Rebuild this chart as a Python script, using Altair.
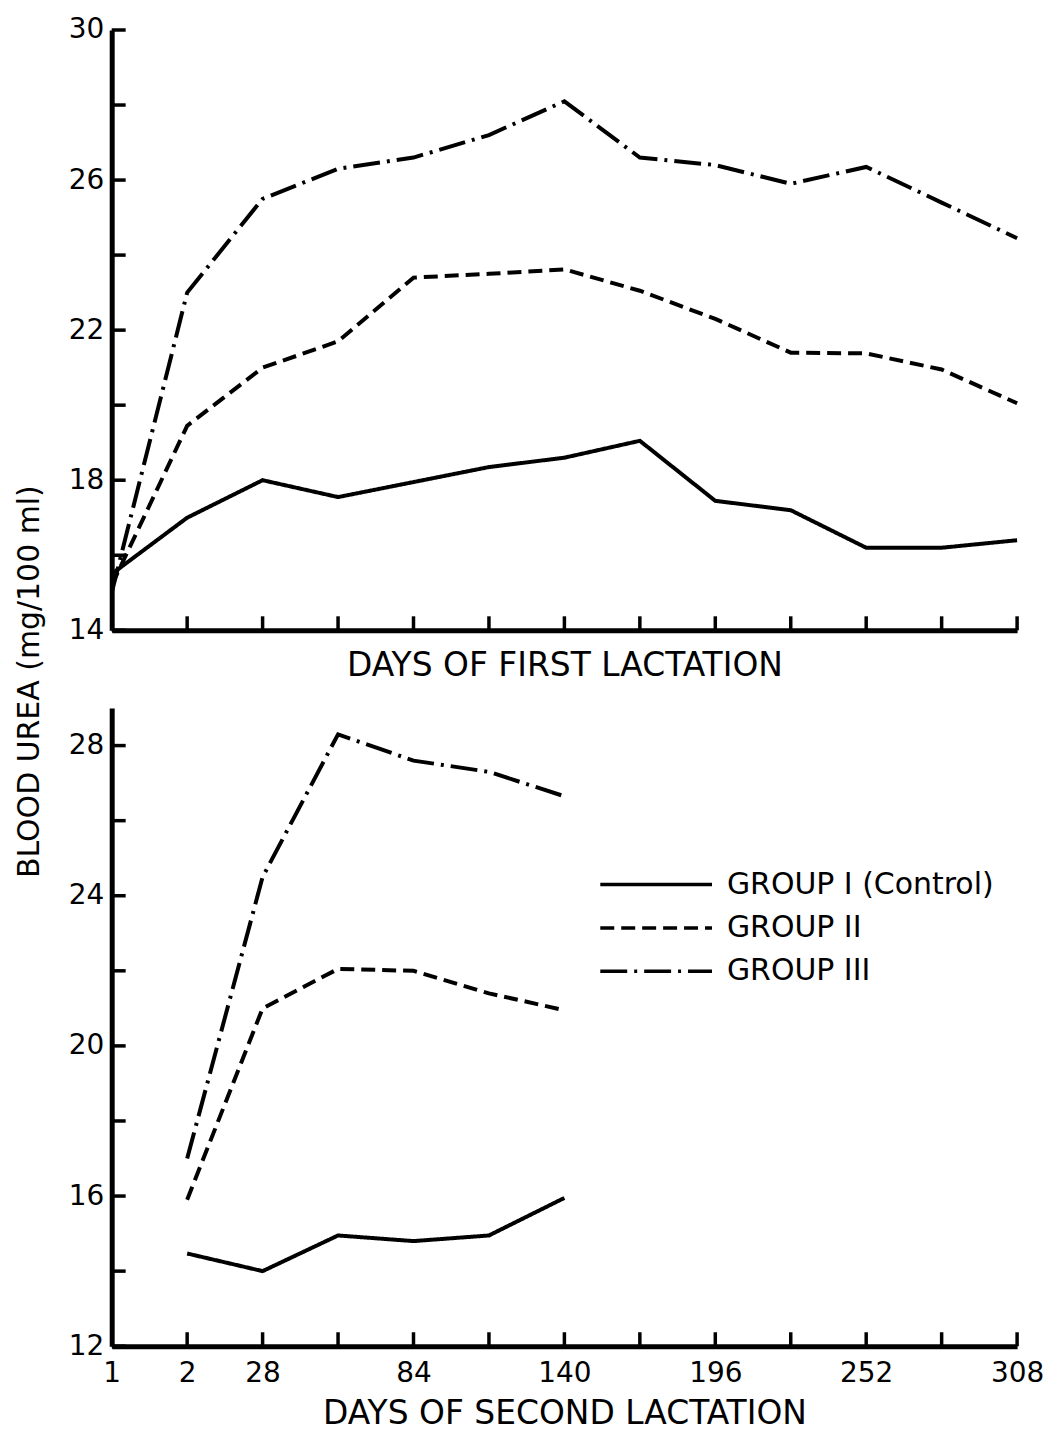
import altair as alt
import pandas as pd

FONT = "DejaVu Sans"

# ---- axis categories (positions are evenly spaced sampling days) ----
day_labels = ["1", "2", "28", "56", "84", "112", "140", "168", "196", "224", "252", "280", "308"]
shown_day_pos = [0, 1, 2, 4, 6, 8, 10, 12]
groups = ["GROUP I (Control)", "GROUP II", "GROUP III"]

# ---- first lactation (positions 0..12) ----
first_pos = [0, 1, 2, 3, 4, 5, 6, 7, 8, 9, 10, 11, 12]
first_g1 = [15.5, 17.0, 18.0, 17.55, 17.95, 18.35, 18.6, 19.05, 17.45, 17.2, 16.2, 16.2, 16.4]
first_g2 = [15.2, 19.45, 21.0, 21.7, 23.4, 23.5, 23.62, 23.05, 22.3, 21.4, 21.38, 20.95, 20.05]
first_g3 = [15.0, 23.0, 25.5, 26.3, 26.6, 27.2, 28.1, 26.6, 26.4, 25.9, 26.35, 25.4, 24.45]

# ---- second lactation (positions 1..6) ----
second_pos = [1, 2, 3, 4, 5, 6]
second_g1 = [14.47, 14.0, 14.95, 14.8, 14.95, 15.95]
second_g2 = [15.9, 21.0, 22.05, 22.0, 21.4, 20.95]
second_g3 = [17.0, 24.5, 28.3, 27.6, 27.3, 26.65]

top_yticks = [14, 16, 18, 20, 22, 24, 26, 28, 30]
bot_yticks = [12, 14, 16, 18, 20, 22, 24, 26, 28]
x_tick_pos = [1, 2, 3, 4, 5, 6, 7, 8, 9, 10, 11, 12]


def long_df(pos, series):
    rows = []
    for g, vals in zip(groups, series):
        for p, v in zip(pos, vals):
            rows.append({"pos": p, "urea": v, "group": g})
    return pd.DataFrame(rows)


df1 = long_df(first_pos, [first_g1, first_g2, first_g3])
df2 = long_df(second_pos, [second_g1, second_g2, second_g3])

W = 908
H1 = 602
H2 = 640

xs = alt.Scale(domain=[0, 12], nice=False, zero=False)
ys1 = alt.Scale(domain=[14, 30], nice=False, zero=False)
ys2 = alt.Scale(domain=[12, 29], nice=False, zero=False)

dashes = [[1, 0], [14, 7], [27, 7, 3, 7]]
dash_scale = alt.Scale(domain=groups, range=dashes)

label_arr = "[" + ",".join("'%s'" % d for d in day_labels) + "]"

x_axis_top = alt.Axis(
    labels=False, ticks=False, grid=False, domainWidth=5,
    title="DAYS OF FIRST LACTATION", titleFontSize=33, titleFontWeight="normal",
    titlePadding=19,
)
y_axis_top = alt.Axis(
    values=top_yticks, labelExpr="(datum.value - 14) % 4 == 0 ? datum.label : ''",
    ticks=False, grid=False, domainWidth=5, labelFontSize=28, labelPadding=8,
    title="BLOOD UREA (mg/100 ml)", titleFontSize=30, titleFontWeight="normal",
    titleY=653, titlePadding=24,
)
x_axis_bot = alt.Axis(
    values=shown_day_pos, labelExpr=label_arr + "[datum.value]",
    labelFlush=False, labelOverlap=False, labelFontSize=28, labelPadding=13,
    ticks=False, grid=False, domainWidth=5,
    title="DAYS OF SECOND LACTATION", titleFontSize=33, titleFontWeight="normal",
    titlePadding=11,
)
y_axis_bot = alt.Axis(
    values=bot_yticks, labelExpr="datum.value % 4 == 0 ? datum.label : ''",
    ticks=False, grid=False, domainWidth=5, labelFontSize=28, labelPadding=8,
    title=" ",
)


def line_layer(df, x_axis, y_axis, ys):
    return alt.Chart(df).mark_line(color="black", strokeWidth=4).encode(
        x=alt.X("pos:Q", scale=xs, axis=x_axis),
        y=alt.Y("urea:Q", scale=ys, axis=y_axis),
        strokeDash=alt.StrokeDash("group:N", scale=dash_scale, legend=None),
        detail="group:N",
    )


def ytick_layer(vals, ys, y_axis):
    return alt.Chart(pd.DataFrame({"v": vals})).mark_rule(color="black", strokeWidth=3.5).encode(
        y=alt.Y("v:Q", scale=ys, axis=y_axis),
        x=alt.value(0),
        x2=alt.value(14),
    )


def xtick_layer(h, x_axis):
    return alt.Chart(pd.DataFrame({"i": x_tick_pos})).mark_rule(color="black", strokeWidth=3.5).encode(
        x=alt.X("i:Q", scale=xs, axis=x_axis),
        y=alt.value(h),
        y2=alt.value(h - 14),
    )


top = alt.layer(
    line_layer(df1, x_axis_top, y_axis_top, ys1),
    ytick_layer(top_yticks, ys1, y_axis_top),
    xtick_layer(H1, x_axis_top),
).properties(width=W, height=H1)

# legend drawn inside lower panel
legend_df = pd.DataFrame({"group": groups})
legend_layers = []
for k, g in enumerate(groups):
    yy = 177 + 43.5 * k
    base = alt.Chart(legend_df).transform_filter(alt.datum.group == g)
    legend_layers.append(
        base.mark_rule(color="black", strokeWidth=3.5, strokeDash=dashes[k]).encode(
            x=alt.value(490), x2=alt.value(602), y=alt.value(yy)
        )
    )
    legend_layers.append(
        base.mark_text(align="left", baseline="middle", font=FONT, fontSize=30, color="black").encode(
            text="group:N", x=alt.value(617), y=alt.value(yy)
        )
    )

bottom = alt.layer(
    line_layer(df2, x_axis_bot, y_axis_bot, ys2),
    ytick_layer(bot_yticks, ys2, y_axis_bot),
    xtick_layer(H2, x_axis_bot),
    *legend_layers,
).properties(width=W, height=H2)

chart = alt.vconcat(top, bottom, spacing=78, bounds="flush").configure_view(
    stroke="transparent"
).configure_axis(
    labelColor="black", titleColor="black", domainColor="black",
    labelFont=FONT, titleFont=FONT,
)

chart.save("out.html", embed_options={"renderer": "svg", "actions": False})
